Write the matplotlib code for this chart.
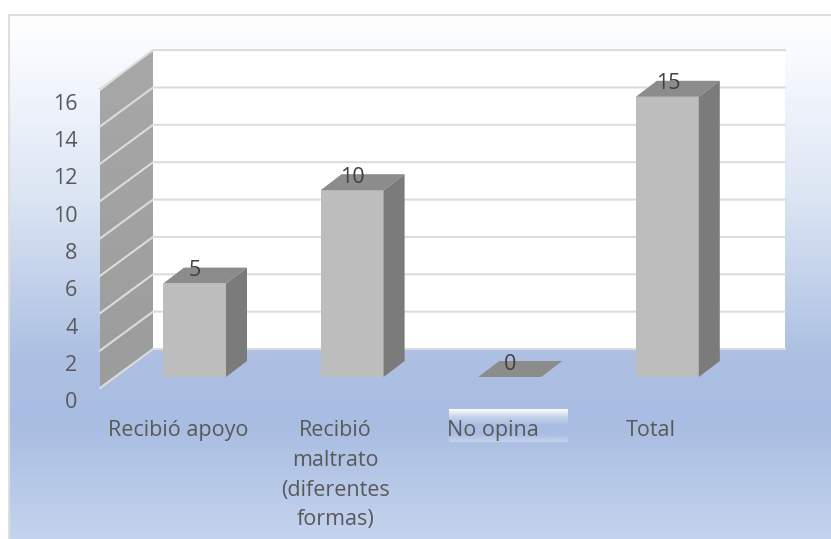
import numpy as np
import matplotlib
matplotlib.use('Agg')
import matplotlib.pyplot as plt
from matplotlib.colors import LinearSegmentedColormap

categories = ['Recibió apoyo', 'Recibió\nmaltrato\n(diferentes\nformas)', 'No opina', 'Total']
values = [5, 10, 0, 15]
y_ticks = [0, 2, 4, 6, 8, 10, 12, 14, 16]

W, H = 831, 539
UNIT = 18.68   # px per value unit
STEP = 157.6   # px per category
X0, Y0 = 194.5, 377   # front floor point of the first bar centre


def dx(px):
    return px / STEP


def dy(px):
    return px / UNIT


def xd(px):
    return (px - X0) / STEP


def yd(py):
    return (Y0 - py) / UNIT


plt.rcParams['font.family'] = ['Open Sans', 'DejaVu Sans']

fig = plt.figure(figsize=(W / 100, H / 100), dpi=100)
ax = fig.add_axes([0, 0, 1, 1])

# chart background
bg = LinearSegmentedColormap.from_list('bg', [
    (0.0, '#ffffff'), (0.08, '#f8faff'), (0.35, '#dbe5f3'),
    (0.65, '#adc0e3'), (0.78, '#a9bde2'), (1.0, '#c4d3ee')])
grad = np.linspace(0, 1, 256).reshape(-1, 1)
ax.imshow(grad, cmap=bg, aspect='auto', zorder=0,
          extent=(xd(9), xd(W), yd(H), yd(15)))
ax.plot([xd(8.5), xd(8.5)], [yd(H), yd(14.5)], color='#dedede', lw=1.5, zorder=1)
ax.plot([xd(8.5), xd(W)], [yd(14.5), yd(14.5)], color='#dedede', lw=1.5, zorder=1)

# back wall
ax.fill_between([xd(153), xd(785)], yd(349), yd(50), color='white', lw=0, zorder=1)

# side wall
wall = LinearSegmentedColormap.from_list('wall', ['#a8a8a8', '#9c9c9c'])
im = ax.imshow(grad, cmap=wall, aspect='auto', zorder=2,
               extent=(xd(100), xd(153), yd(388), yd(50)))
clip = ax.fill([xd(100), xd(153), xd(153), xd(100)],
               [yd(91), yd(50), yd(349), yd(388)], color='none', lw=0)[0]
im.set_clip_path(clip)

# grid lines on back and side wall
for t in y_ticks:
    back = yd(349) + t
    front = yd(388) + t
    ax.plot([xd(100), xd(153), xd(785)], [front, back, back],
            color='#dcdcdc', lw=1.5, zorder=3, solid_joinstyle='miter')
    ax.text(xd(77.5), yd(403) + t, str(t), ha='right', va='center',
            fontsize=15.5, color='#595959', zorder=6)

# bars
x = np.arange(len(values))
bar_w = 63 / STEP
dep_x, dep_y = dx(21), dy(16)
ax.bar(x, values, width=bar_w, color='#bdbdbd', lw=0, zorder=5)
for xi, v in zip(x, values):
    l, r = xi - bar_w / 2, xi + bar_w / 2
    ax.fill([l, r, r + dep_x, l + dep_x], [v, v, v + dep_y, v + dep_y],
            color='#8c8c8c', lw=0, zorder=5)
    ax.fill([r, r + dep_x, r + dep_x, r], [0, dep_y, v + dep_y, v],
            color='#7b7b7b', lw=0, zorder=5)
    ax.text(xi + dx(0.5), v + dep_y - dy(3), str(v), ha='center', va='center',
            fontsize=15.5, color='#404040', zorder=6)

# white box behind the third label
box = LinearSegmentedColormap.from_list('box', ['#ffffff', '#c3d1ea', '#a9bde2', '#a9bde2', '#c4d3ee'])
ax.imshow(grad, cmap=box, aspect='auto', zorder=2,
          extent=(xd(449), xd(568), yd(442), yd(409)))

# category labels sit a little left of their bars
for xi, name in zip(x, categories):
    ax.text(xi - dx(16.5), yd(420), name, ha='center', va='top', fontsize=15.5,
            color='#595959', linespacing=1.55, zorder=6)

ax.set_xlim(xd(0), xd(W))
ax.set_ylim(yd(H), yd(0))
ax.axis('off')

fig.savefig('out.png', dpi=100, facecolor='white')
